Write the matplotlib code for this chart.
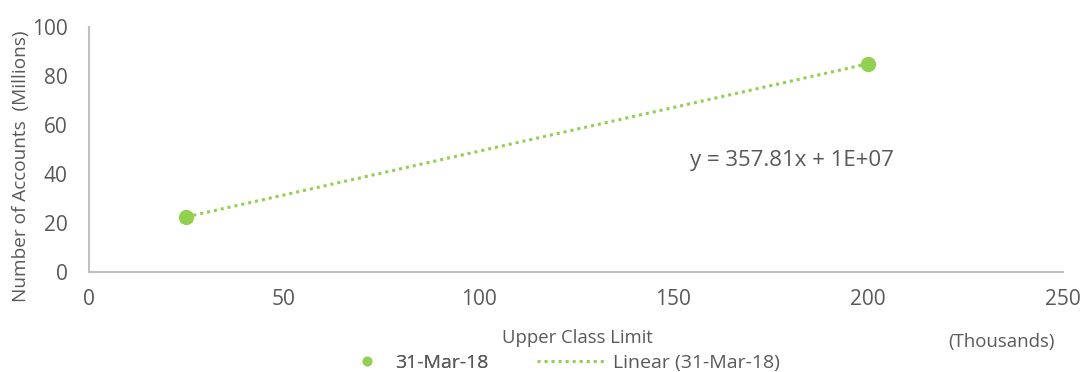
import matplotlib
matplotlib.use("Agg")
import matplotlib.pyplot as plt
import numpy as np
from matplotlib.lines import Line2D

# Data
upper_class_limit = [25, 200]          # thousands
accounts_millions = [22.5, 85.0]       # millions
series_label = "31-Mar-18"
trend_label = "Linear (31-Mar-18)"
equation_text = "y = 357.81x + 1E+07"
x_ticks = [0, 50, 100, 150, 200, 250]
y_ticks = [0, 20, 40, 60, 80, 100]

green = "#92D050"
text_gray = "#595959"
axis_gray = "#BFBFBF"
plt.rcParams['font.family'] = ['Open Sans', 'DejaVu Sans']

fig = plt.figure(figsize=(10.82, 3.72), dpi=100)
ax = fig.add_axes([0.0823, 0.2688, 0.9001, 0.6586])

dots = (0, (1, 1.3))
# trend line via least squares fit
coef = np.polyfit(upper_class_limit, accounts_millions, 1)
xs = np.array(upper_class_limit, dtype=float)
ax.plot(xs, np.polyval(coef, xs), linestyle=dots, color=green, lw=2.2, zorder=2)
ax.plot(upper_class_limit, accounts_millions, 'o', color=green, ms=10, zorder=3)

ax.set_xlim(0, 250)
ax.set_ylim(0, 100)
ax.set_xticks(x_ticks)
ax.set_yticks(y_ticks)
ax.tick_params(length=0, labelsize=15, colors=text_gray)
ax.tick_params(axis='x', pad=12.5)
ax.tick_params(axis='y', pad=15.5)
for s in ['top', 'right']:
    ax.spines[s].set_visible(False)
for s in ['left', 'bottom']:
    ax.spines[s].set_color(axis_gray)
    ax.spines[s].set_linewidth(1.5)

ax.set_ylabel("Number of Accounts  (Millions)", fontsize=13.7, color=text_gray)
ax.yaxis.set_label_coords(-0.0603, 0.43)
fig.text(577 / 1082, 1 - 338 / 372, "Upper Class Limit", fontsize=13.3, color=text_gray,
         ha='center', va='center')
fig.text(1001 / 1082, 1 - 342 / 372, "(Thousands)", fontsize=13.4, color=text_gray,
         ha='center', va='center')

ax.text(154.3, 45.7, equation_text, fontsize=16, color=text_gray, ha='left', va='center')

fs = 14
leg1 = fig.legend([Line2D([], [], marker='o', color=green, ls='none', ms=6)], [series_label],
                  loc='center left', bbox_to_anchor=(353.5 / 1082, 1 - 363 / 372),
                  frameon=False, fontsize=fs, labelcolor=text_gray, borderpad=0,
                  borderaxespad=0, handlelength=1.4, handletextpad=0.74)
leg2 = fig.legend([Line2D([], [], color=green, ls=dots, lw=2.2)], [trend_label],
                  loc='center left', bbox_to_anchor=(537 / 1082, 1 - 363 / 372),
                  frameon=False, fontsize=fs, labelcolor=text_gray, borderpad=0,
                  borderaxespad=0, handlelength=3.5, handletextpad=0.41)
fig.add_artist(leg1)

fig.savefig("out.png", dpi=100)
